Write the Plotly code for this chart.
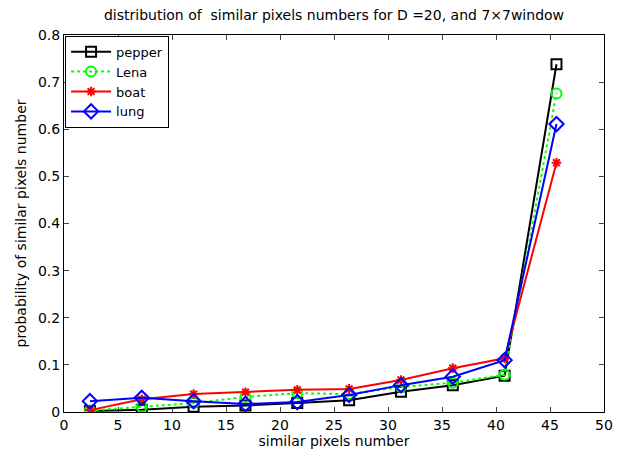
import plotly.graph_objects as go

x_vals = [2.4, 7.2, 12.0, 16.8, 21.6, 26.4, 31.2, 36.0, 40.8, 45.6]
pepper = [0.002, 0.005, 0.011, 0.014, 0.019, 0.025, 0.043, 0.057, 0.077, 0.738]
lena = [0.003, 0.011, 0.019, 0.032, 0.040, 0.038, 0.053, 0.062, 0.079, 0.676]
boat = [0.004, 0.027, 0.038, 0.042, 0.047, 0.049, 0.068, 0.093, 0.114, 0.529]
lung = [0.023, 0.030, 0.023, 0.017, 0.021, 0.036, 0.057, 0.075, 0.110, 0.611]

x_ticks = [0, 5, 10, 15, 20, 25, 30, 35, 40, 45, 50]
y_ticks = [0, 0.1, 0.2, 0.3, 0.4, 0.5, 0.6, 0.7, 0.8]
y_tick_text = ["0", "0.1", "0.2", "0.3", "0.4", "0.5", "0.6", "0.7", "0.8"]

series = [
    ("pepper", pepper, "black", "solid", "square-open", 10),
    ("Lena", lena, "#00ff00", "dot", "circle-open", 10),
    ("boat", boat, "red", "solid", "asterisk-open", 8),
    ("lung", lung, "blue", "solid", "diamond-open", 11),
]

fig = go.Figure()
for name, vals, color, dash, sym, size in series:
    fig.add_trace(go.Scatter(
        x=x_vals, y=vals, name=name, mode="lines+markers",
        line=dict(color=color, width=2, dash=dash),
        marker=dict(symbol=sym, size=size, color=color, line=dict(color=color, width=2)),
    ))

# page body adds an 8px offset, so the figure is 8px smaller and margins shifted
font_family = "DejaVu Sans, Liberation Sans, Arial, sans-serif"
fig.update_layout(
    width=620, height=443,
    margin=dict(l=56, r=24, t=27, b=39),
    paper_bgcolor="white", plot_bgcolor="white",
    font=dict(family=font_family, size=14, color="black"),
    title=dict(text="distribution of  similar pixels numbers for D =20, and 7×7window",
               x=0.5, xanchor="center", xref="paper", y=1 - 7 / 443, yanchor="middle",
               font=dict(size=14)),
    showlegend=True,
    legend=dict(x=0.002, y=0.998, xanchor="left", yanchor="top",
                bordercolor="black", borderwidth=1, bgcolor="white",
                font=dict(size=13), tracegroupgap=0, itemwidth=40),
    xaxis=dict(range=[0, 50], tickvals=x_ticks, ticks="inside", ticklen=5,
               showline=True, linecolor="black", linewidth=1, mirror="ticks",
               showgrid=False, zeroline=False, automargin=False,
               tickfont=dict(size=14),
               title=dict(text="similar pixels number", standoff=2, font=dict(size=14))),
    yaxis=dict(range=[0, 0.8], tickvals=y_ticks, ticktext=y_tick_text, ticks="inside", ticklen=5,
               showline=True, linecolor="black", linewidth=1, mirror="ticks",
               showgrid=False, zeroline=False, automargin=False,
               tickfont=dict(size=14),
               title=dict(text="probability of similar pixels number", standoff=8, font=dict(size=14))),
)

fig.write_html("out.html")
